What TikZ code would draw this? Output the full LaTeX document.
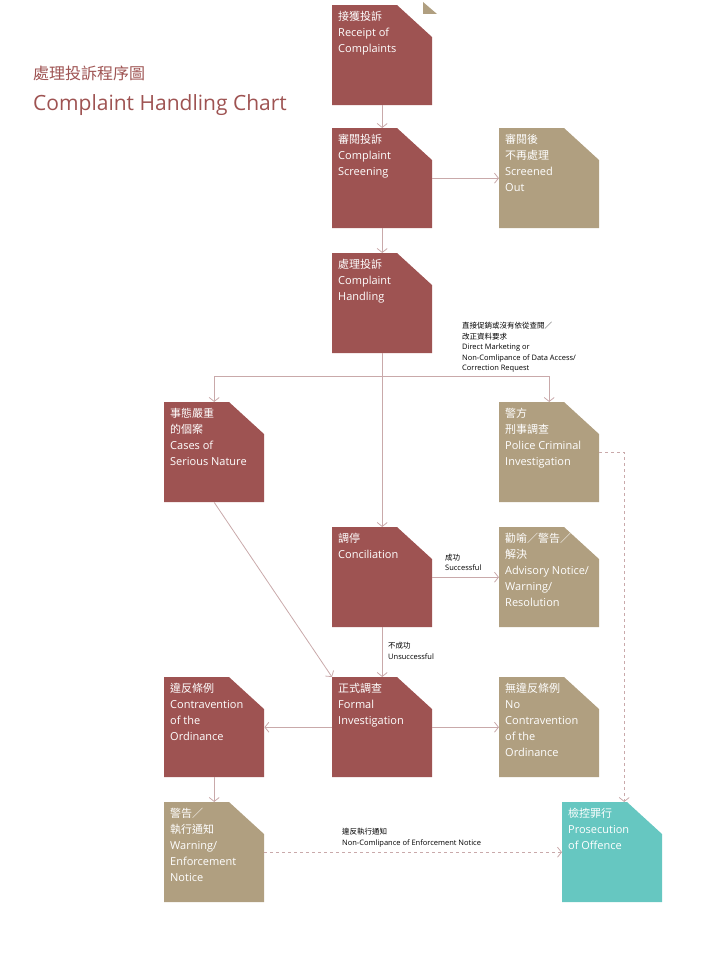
\documentclass[tikz,border=0pt]{standalone}
\usepackage{xcolor}
\usepackage{fontspec}
\setmainfont{Open Sans}
\newfontfamily\cjk{Noto Sans CJK TC}
\usetikzlibrary{positioning,arrows.meta}

\definecolor{wine}{HTML}{9E5352}
\definecolor{sand}{HTML}{B09F80}
\definecolor{teal}{HTML}{66C7C1}
\definecolor{wire}{HTML}{C9A9AA}

\tikzset{
  card/.style={anchor=north west, inner sep=6pt, text=white, font=\fontsize{11}{16}\selectfont,
    path picture={\fill[#1] (path picture bounding box.north west)
      -- ([xshift=-35pt]path picture bounding box.north east)
      -- ([yshift=-32pt]path picture bounding box.north east)
      -- (path picture bounding box.south east)
      -- (path picture bounding box.south west) -- cycle;}},
  flow/.style={wire, line width=0.8pt, -{Straight Barb[length=4pt,width=10pt]}},
  note/.style={anchor=north west, align=left, inner sep=0pt, font=\fontsize{7.5}{10.5}\selectfont}
}
\newcommand{\cardtext}[1]{\parbox[t][88pt][t]{88pt}{#1}}

\begin{document}
\begin{tikzpicture}[x=1pt, y=-1pt]
    \useasboundingbox (0,0) rectangle (720,958);

    \node [anchor=base west, inner sep=0pt, text=wine, font=\cjk\fontsize{16}{16}\selectfont] (titlezh) at (33,80) {處理投訴程序圖};
    \node [anchor=base west, inner sep=0pt, text=wine, font=\fontsize{21}{21}\selectfont] (titleen) at (33,110) {Complaint Handling Chart};

    \node [card=wine] (receipt) at (332,5) {\cardtext{{\cjk 接獲投訴}\\Receipt of\\Complaints}};
    \fill [sand] (423,2) -- (423,14) -- (437,14) -- cycle;
    \node [card=wine] (screening) at (332,128) {\cardtext{{\cjk 審閱投訴}\\Complaint\\Screening}};
    \node [card=sand] (screened) at (499,128) {\cardtext{{\cjk 審閱後}\\{\cjk 不再處理}\\Screened\\Out}};
    \node [card=wine] (handling) at (332,253) {\cardtext{{\cjk 處理投訴}\\Complaint\\Handling}};

    \node [card=wine] (serious) at (164,402) {\cardtext{{\cjk 事態嚴重}\\{\cjk 的個案}\\Cases of\\Serious Nature}};
    \node [card=sand] (police) at (499,402) {\cardtext{{\cjk 警方}\\{\cjk 刑事調查}\\Police Criminal\\Investigation}};

    \node [card=wine] (conciliation) at (332,527) {\cardtext{{\cjk 調停}\\Conciliation}};
    \node [card=sand] (advisory) at (499,527) {\cardtext{{\cjk 勸喻／警告／}\\{\cjk 解決}\\Advisory Notice/\\Warning/\\Resolution}};

    \node [card=wine] (contravention) at (164,677) {\cardtext{{\cjk 違反條例}\\Contravention\\of the\\Ordinance}};
    \node [card=wine] (formal) at (332,677) {\cardtext{{\cjk 正式調查}\\Formal\\Investigation}};
    \node [card=sand] (nocontra) at (499,677) {\cardtext{{\cjk 無違反條例}\\No\\Contravention\\of the\\Ordinance}};

    \node [card=sand] (warning) at (164,802) {\cardtext{{\cjk 警告／}\\{\cjk 執行通知}\\Warning/\\Enforcement\\Notice}};
    \node [card=teal] (prosecution) at (562,802) {\cardtext{{\cjk 檢控罪行}\\Prosecution\\of Offence}};

    \coordinate (split) at (382,376);

    \draw [flow] (receipt) -- (screening);
    \draw [flow] (screening) -- (screened);
    \draw [flow] (screening) -- (handling);
    \draw [flow] (handling) -- (conciliation);
    \draw [wire, line width=0.8pt] (serious.north |- split) -- (police.north |- split);
    \draw [flow] (serious.north |- split) -- (serious.north);
    \draw [flow] (police.north |- split) -- (police.north);
    \draw [flow] (serious.south) -- (formal.north west);
    \draw [flow] (conciliation) -- (advisory);
    \draw [flow] (conciliation) -- (formal);
    \draw [flow] (formal) -- (contravention);
    \draw [flow] (formal) -- (nocontra);
    \draw [flow] (contravention) -- (warning);
    \draw [flow, dashed] (warning) -- (prosecution);
    \draw [flow, dashed] (police.east) -| ([xshift=12pt]prosecution.north);

    \node [note] (splitnote) at (462,322) {{\cjk 直接促銷或沒有依從查閱／}\\{\cjk 改正資料要求}\\Direct Marketing or\\Non-Comlipance of Data Access/\\Correction Request};
    \node [note] (successnote) at (445,554) {{\cjk 成功}\\Successful};
    \node [note] (failnote) at (388,642) {{\cjk 不成功}\\Unsuccessful};
    \node [note] (enforcenote) at (342,828) {{\cjk 違反執行通知}\\Non-Comlipance of Enforcement Notice};
  \end{tikzpicture}
\end{document}
